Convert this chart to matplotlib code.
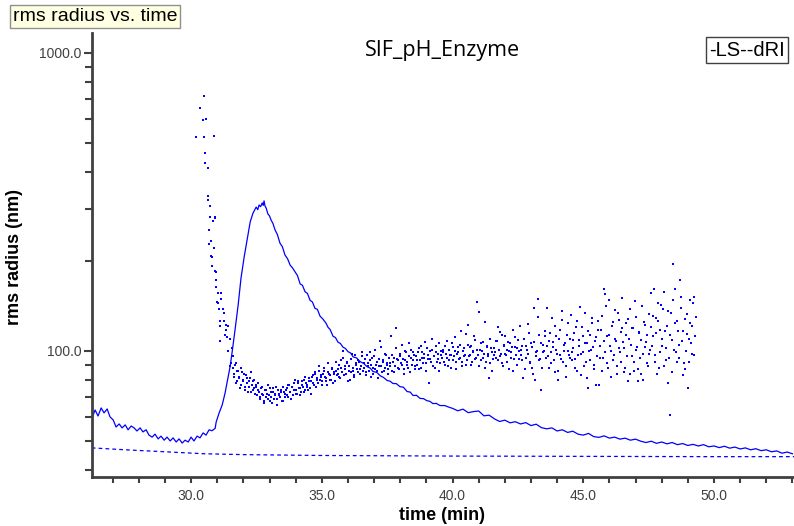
import matplotlib
matplotlib.use("Agg")
import matplotlib.pyplot as plt
import numpy as np
from matplotlib.ticker import FixedLocator, FuncFormatter, LogLocator, MultipleLocator, NullFormatter

# LS trace (rms radius from light scattering), solid line
ls_time = [
    26.21, 26.33, 26.44, 26.56, 26.67, 26.79, 26.90, 27.02, 27.13, 27.25,
    27.36, 27.48, 27.59, 27.71, 27.82, 27.93, 28.05, 28.16, 28.28, 28.39,
    28.51, 28.62, 28.74, 28.85, 28.97, 29.08, 29.20, 29.31, 29.43, 29.54,
    29.66, 29.77, 29.89, 30.00, 30.11, 30.23, 30.34, 30.46, 30.57, 30.69,
    30.80, 30.92,
    30.96, 31.07, 31.19, 31.30, 31.41, 31.49, 31.57, 31.68, 31.80, 31.91,
    32.03, 32.14, 32.26, 32.31, 32.37, 32.43, 32.49, 32.55, 32.60, 32.66,
    32.72, 32.76, 32.79, 32.83, 32.87, 32.94, 33.00, 33.06, 33.13, 33.21,
    33.30, 33.40, 33.49, 33.59, 33.69, 33.79, 33.88, 33.98, 34.07, 34.17,
    34.26, 34.36, 34.45, 34.55, 34.64, 34.74, 34.83, 34.93, 35.04, 35.16,
    35.24, 35.32, 35.43, 35.52, 35.62, 35.71, 35.81, 35.90, 36.00, 36.10,
    36.20, 36.33, 36.46, 36.60, 36.73, 36.85, 36.96, 37.10, 37.23, 37.36,
    37.50, 37.61, 37.72, 37.85, 37.99, 38.12, 38.26, 38.38, 38.49, 38.62,
    38.76, 38.89, 39.02, 39.13, 39.25, 39.38, 39.52, 39.70, 39.90,
    40.0, 40.2, 40.4, 40.6, 40.8, 41.0, 41.2, 41.4, 41.6, 41.8,
    42.0, 42.2, 42.4, 42.6, 42.8, 43.0, 43.2, 43.4, 43.6, 43.8,
    44.0, 44.2, 44.4, 44.6, 44.8, 45.0, 45.2, 45.4, 45.6, 45.8,
    46.0, 46.2, 46.4, 46.6, 46.8, 47.0, 47.2, 47.4, 47.6, 47.8,
    48.0, 48.2, 48.4, 48.6, 48.8, 49.0, 49.2, 49.4, 49.6, 49.8,
    50.0, 50.2, 50.4, 50.6, 50.8, 51.0, 51.2, 51.4, 51.6, 51.8,
    52.0, 52.2, 52.4, 52.6, 52.8, 53.0,
]
ls_value = [
    59.6, 63.4, 60.5, 64.4, 62.0, 63.9, 60.1, 58.7, 55.6, 56.9,
    55.2, 56.5, 54.4, 56.0, 55.2, 53.9, 55.2, 53.5, 54.4, 52.2,
    51.4, 52.6, 50.7, 51.8, 50.2, 51.4, 49.9, 51.1, 49.5, 50.7,
    49.1, 50.2, 49.5, 51.4, 49.9, 51.8, 51.1, 53.1, 52.2, 54.4,
    54.0, 55.0,
    57.8, 61.9, 65.9, 72.3, 81.2, 88.4, 99.2, 117.6, 142.7, 175.8,
    206.8, 235.8, 271, 280, 290.5, 297, 304, 298, 309, 305,
    314, 308, 319, 306, 302, 288, 284, 275, 268, 255,
    246, 230, 224, 210, 204, 194, 190, 184, 179, 168,
    166, 158, 156, 148, 146, 139, 138, 131, 128, 124,
    120, 118, 112, 111, 107, 106, 103, 102, 99.5, 98.5,
    95.5, 94.8, 92.2, 90.8, 88.6, 87.6, 85.3, 84.8, 82.6, 81.5,
    79.6, 79.2, 77.8, 77.7, 75.9, 75.6, 73.1, 72.8, 70.9, 71.0,
    69.3, 69.2, 68.1, 67.8, 66.6, 66.7, 65.6, 65.6, 64.6,
    64.2, 63.0, 63.8, 62.1, 62.6, 62.9, 60.6, 60.9, 59.2, 58.0,
    58.6, 57.4, 57.9, 56.9, 57.5, 56.2, 56.8, 55.3, 54.8, 55.2,
    53.9, 54.4, 53.3, 53.8, 52.6, 52.2, 52.9, 51.6, 51.3, 51.9,
    51.0, 51.4, 50.6, 51.0, 50.2, 50.6, 49.8, 49.3, 49.8, 49.0,
    49.5, 48.8, 49.3, 48.5, 48.9, 48.2, 48.6, 48.0, 48.5, 47.7,
    48.0, 47.4, 47.9, 47.2, 47.6, 46.9, 47.3, 46.6, 47.0, 46.3,
    46.6, 45.9, 46.2, 45.4, 45.8, 45.2,
]

# dRI trace, dashed line
dri_time = [26.2, 27.5, 29.0, 30.5, 32.0, 35.0, 40.0, 45.0, 50.0, 53.1]
dri_value = [47.3, 46.6, 45.9, 45.2, 44.9, 44.6, 44.4, 44.3, 44.2, 44.2]

# rms radius points: the spike at the start of the peak
spike_time = [
    30.19, 30.33, 30.47, 30.51, 30.51, 30.57, 30.55, 30.55, 30.65, 30.65,
    30.65, 30.69, 30.69, 30.73, 30.73, 30.76, 30.76, 30.79, 30.81, 30.83,
    30.87, 30.87, 30.91, 30.91, 30.92, 30.94, 30.94, 30.97, 30.99, 31.02,
    31.04, 31.08, 31.10, 31.12, 31.12, 31.15, 31.16, 31.21, 31.25, 31.26,
    31.29, 31.34, 31.35, 31.39, 31.43, 31.43, 31.49, 31.49, 31.53, 31.56,
    31.59,
]
spike_value = [
    521, 652, 597, 716, 524, 602, 462, 428, 410, 330,
    322, 254, 229, 307, 282, 234, 209, 193, 206, 272,
    528, 221, 282, 279, 185, 173, 164, 184, 146, 157,
    145, 138, 121, 126, 108, 157, 150, 138, 134, 126,
    113, 122, 118, 111, 121, 100, 110, 89, 91, 102,
    96.5,
]

# rms radius points after the spike, sampled every 0.05 min in two
# interleaved runs (31.600, 31.650, ... and 31.625, 31.675, ...)
dot_start_a = 31.6
dot_start_b = 31.625
dot_step = 0.05
dot_value_a = [
    88, 84, 91, 79, 86, 82, 77, 85, 80, 74, 83, 78, 76, 81, 73, 79, 75, 72, 77, 74,
    73, 70, 76, 71, 68, 74, 72, 69, 75, 70, 67, 73, 71, 76, 69, 72, 70, 74, 68, 73,
    72, 75, 70, 77, 73, 76, 71, 78, 74, 72, 79, 75, 73, 77, 80, 74, 78, 76, 81, 75,
    79, 83, 77, 85, 80, 78, 86, 82, 79, 84, 88, 81, 77, 85, 83, 80, 87, 84, 79, 86,
    84, 90, 81, 88, 95, 83, 87, 92, 79, 89, 85, 98, 86, 82, 91, 87, 93, 84, 89, 96,
    88, 94, 83, 91, 86, 99, 90, 84, 96, 87, 92, 81, 89, 103, 85, 93, 88, 97, 90, 84,
    91, 112, 86, 95, 89, 119, 93, 87, 98, 90, 94, 84, 100, 92, 88, 106, 95, 90, 99, 87,
    96, 90, 102, 93, 88, 99, 95, 107, 91, 97, 78, 94, 101, 89, 96, 104, 92, 98, 86, 100,
    95, 101, 90, 98, 108, 93, 97, 88, 103, 96, 111, 92, 99, 94, 105, 89, 100, 96, 114, 93,
    122, 97, 104, 92, 100, 109, 95, 146, 135, 101, 93, 107, 98, 88, 103, 96, 81, 110, 99, 94,
    102, 95, 108, 120, 116, 98, 91, 105, 112, 97, 101, 87, 106, 99, 118, 94, 103, 90, 109, 100,
    97, 104, 81, 110, 95, 101, 123, 92, 106, 88, 139, 80, 99, 149, 113, 94, 74, 105, 100, 117,
    139, 96, 108, 91, 129, 103, 85, 112, 98, 80, 118, 94, 136, 100, 106, 89, 124, 97, 110, 93,
    102, 115, 88, 126, 97, 109, 83, 120, 99, 134, 92, 106, 75, 113, 101, 129, 90, 108, 77, 118,
    77, 104, 131, 95, 162, 155, 112, 88, 148, 100, 121, 93, 137, 108, 84, 127, 99, 116, 151, 102,
    88, 124, 79, 110, 138, 96, 119, 86, 130, 103, 79, 115, 84, 142, 98, 122, 107, 91, 133, 101,
    156, 112, 161, 97, 129, 145, 88, 118, 104, 138, 158, 93, 121, 78, 61, 134, 109, 196, 161, 99,
    126, 105, 173, 152, 117, 91, 87, 133, 75, 110, 124, 98, 145, 152, 130,
]
dot_value_b = [
    82, 90, 78, 86, 81, 75, 88, 79, 84, 76, 81, 73, 79, 85, 77, 74, 80, 76, 71, 78,
    69, 75, 72, 67, 74, 70, 77, 71, 68, 73, 75, 69, 72, 66, 74, 71, 73, 68, 76, 70,
    74, 71, 77, 73, 69, 76, 74, 80, 72, 78, 75, 71, 79, 76, 73, 82, 77, 74, 79, 72,
    82, 78, 84, 76, 81, 89, 80, 83, 77, 86, 82, 79, 91, 84, 80, 88, 78, 85, 92, 83,
    87, 82, 93, 85, 100, 89, 84, 91, 86, 80, 94, 88, 83, 97, 90, 85, 92, 87, 99, 86,
    91, 85, 97, 89, 93, 82, 95, 88, 101, 90, 86, 94, 108, 89, 92, 86, 98, 91, 87, 95,
    89, 97, 92, 85, 102, 94, 88, 96, 91, 105, 87, 93, 99, 90, 96, 85, 101, 93, 97, 89,
    93, 99, 87, 104, 95, 91, 98, 86, 102, 94, 100, 92, 110, 96, 88, 99, 94, 106, 91, 97,
    99, 92, 104, 95, 89, 101, 97, 106, 93, 100, 87, 98, 103, 95, 117, 92, 102, 97, 90, 105,
    96, 103, 90, 99, 112, 94, 101, 97, 89, 106, 100, 95, 125, 92, 104, 98, 91, 102, 86, 97,
    99, 108, 93, 101, 96, 113, 89, 104, 98, 92, 107, 100, 95, 103, 86, 111, 97, 102, 94, 121,
    101, 93, 110, 87, 104, 98, 115, 91, 103, 84, 107, 96, 100, 130, 93, 106, 88, 99, 112, 95,
    104, 88, 115, 99, 107, 93, 121, 101, 86, 110, 97, 127, 92, 105, 82, 113, 100, 95, 132, 99,
    109, 94, 120, 86, 104, 140, 98, 112, 89, 106, 81, 117, 100, 93, 124, 103, 87, 111, 96, 126,
    95, 118, 86, 108, 99, 142, 91, 113, 104, 82, 125, 97, 110, 89, 134, 102, 92, 119, 107, 85,
    113, 96, 128, 84, 105, 119, 92, 147, 101, 87, 116, 95, 109, 80, 125, 103, 113, 89, 98, 120,
    104, 131, 92, 115, 84, 126, 99, 143, 110, 89, 117, 102, 136, 95, 113, 85, 148, 101, 124, 92,
    117, 95, 139, 108, 83, 128, 100, 114, 92, 148, 106, 121, 97, 112,
]
dot_time_a = dot_start_a + dot_step * np.arange(len(dot_value_a))
dot_time_b = dot_start_b + dot_step * np.arange(len(dot_value_b))

y_major = [100, 1000]

BLUE = "#0000ff"
GREY = "#404040"

plt.rcParams["font.family"] = ["Liberation Sans", "DejaVu Sans"]

figure = plt.figure(figsize=(7.94, 5.26), dpi=100)
axis = figure.add_axes([92 / 794, 49 / 526, 1 - 92 / 794, 444 / 526])

axis.plot(ls_time, ls_value, color=BLUE, linewidth=0.9)
axis.plot(dri_time, dri_value, color=BLUE, linewidth=0.9, dashes=(3, 2.5))
for times, values in ((spike_time, spike_value),
                      (dot_time_a, dot_value_a),
                      (dot_time_b, dot_value_b)):
    axis.plot(times, values, linestyle="none", marker="s",
              markersize=2.0, markeredgewidth=0, color=BLUE)

axis.set_yscale("log")
axis.set_xlim(26.21, 53.06)
axis.set_ylim(37.77, 1167)

axis.yaxis.set_major_locator(FixedLocator(y_major))
axis.yaxis.set_major_formatter(FuncFormatter(lambda v, p: f"{v:.1f}"))
axis.yaxis.set_minor_locator(LogLocator(base=10, subs=np.arange(2, 10)))
axis.yaxis.set_minor_formatter(NullFormatter())
axis.xaxis.set_major_locator(MultipleLocator(5))
axis.xaxis.set_minor_locator(MultipleLocator(1))
axis.xaxis.set_major_formatter(FuncFormatter(lambda v, p: f"{v:.1f}"))

for side in ("top", "right"):
    axis.spines[side].set_visible(False)
for side in ("left", "bottom"):
    axis.spines[side].set_linewidth(2)
    axis.spines[side].set_color(GREY)

axis.tick_params(which="both", direction="out", color=GREY, width=1.5,
                 labelcolor=GREY, labelsize=10)
axis.tick_params(axis="y", which="major", length=6, pad=1.5)
axis.tick_params(axis="y", which="minor", length=5)
axis.tick_params(axis="x", which="both", length=4, pad=5)

axis.set_xlabel("time (min)", fontsize=13, fontweight="bold", va="center")
axis.xaxis.set_label_coords(0.4986, -0.0856)
axis.set_ylabel("rms radius (nm)", fontsize=13, fontweight="bold", va="center")
axis.yaxis.set_label_coords(-0.1097, 0.4955)

axis.text(0.5, 0.9617, "SIF_pH_Enzyme", transform=axis.transAxes,
          ha="center", va="center", fontsize=15.5, family="Open Sans")

figure.text(13 / 794, 1 - 16.5 / 526, "rms radius vs. time", ha="left",
            va="center", fontsize=14,
            bbox=dict(boxstyle="square,pad=0.15", facecolor="#ffffe1",
                      edgecolor="#909090", linewidth=1))
figure.text(709 / 794, 1 - 50 / 526, "-LS--dRI", ha="left", va="center",
            fontsize=14.5,
            bbox=dict(boxstyle="square,pad=0.15", facecolor="white",
                      edgecolor=GREY, linewidth=1))

figure.savefig("out.png", dpi=100)
plt.close(figure)
